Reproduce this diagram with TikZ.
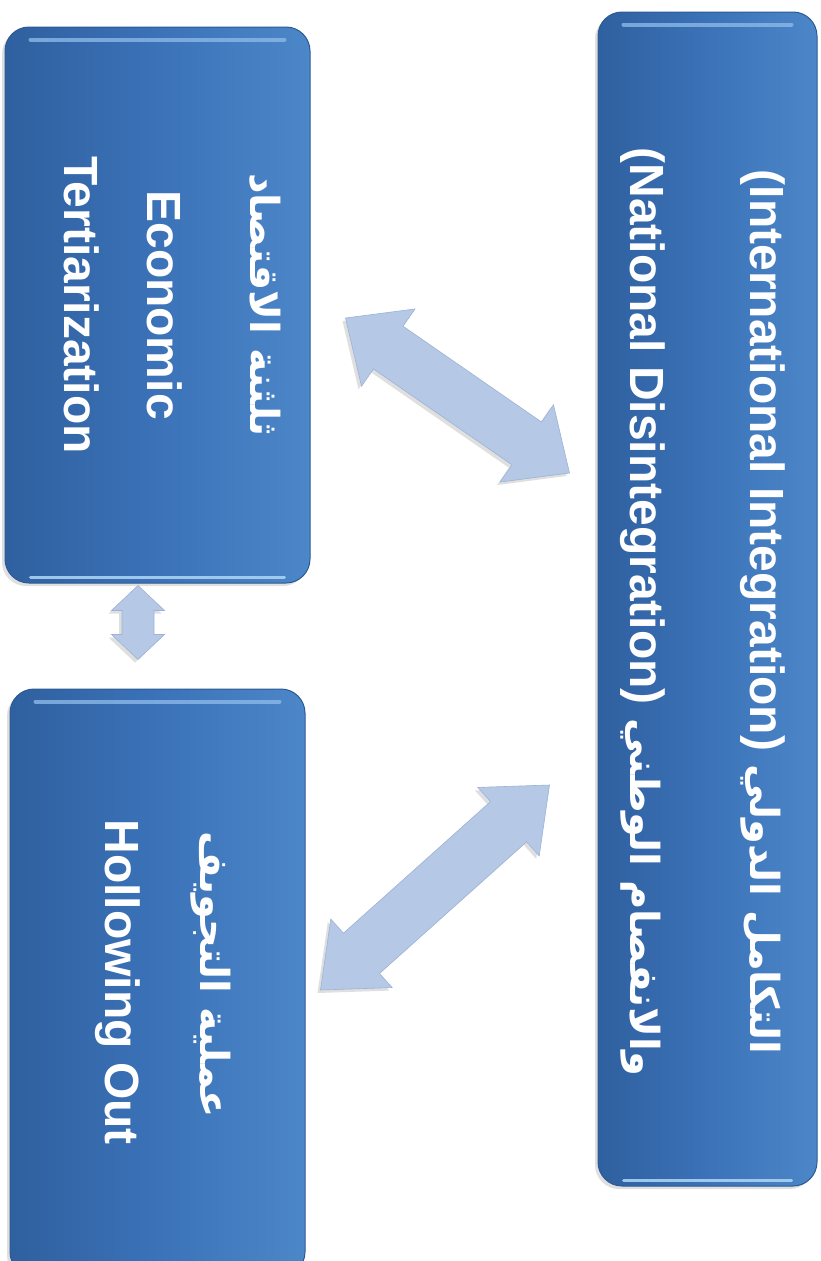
\documentclass[tikz,border=0pt]{standalone}
\usepackage{fontspec}
\setmainfont{Liberation Sans}
\newfontfamily\arabicfont[Script=Arabic]{DejaVu Sans}
\TeXXeTstate=1
\usetikzlibrary{calc,shadows}
\definecolor{boxL}{HTML}{2F609F}
\definecolor{boxM}{HTML}{3B72B8}
\definecolor{boxR}{HTML}{4C87C8}
\definecolor{boxedge}{HTML}{2C5A94}
\definecolor{hltop}{HTML}{8CB8E8}
\definecolor{hlbot}{HTML}{A9D2F2}
\definecolor{arrfill}{HTML}{B5C8E6}
\definecolor{arredge}{HTML}{9DB2D6}
\newcommand\artext[1]{{\arabicfont\bfseries\fontsize{40}{48}\selectfont\beginR #1\endR}}
\newcommand\blockarrow[5]{%
  \coordinate (ba1) at ($(#1)!#5!(#2)$);
  \coordinate (ba2) at ($(#2)!#5!(#1)$);
  \filldraw[arr] (#1) -- ($(ba1)!#4!90:(#2)$) -- ($(ba1)!#3!90:(#2)$)
    -- ($(ba2)!#3!-90:(#1)$) -- ($(ba2)!#4!-90:(#1)$) -- (#2)
    -- ($(ba2)!#4!90:(#1)$) -- ($(ba2)!#3!90:(#1)$)
    -- ($(ba1)!#3!-90:(#2)$) -- ($(ba1)!#4!-90:(#2)$) -- cycle;}
\tikzset{
  boxs/.style={rectangle, rounded corners=24pt, draw=boxedge, line width=1pt,
    left color=boxL, right color=boxR, middle color=boxM, inner sep=0pt,
    drop shadow={opacity=0.25, shadow xshift=-3pt, shadow yshift=-3pt}},
  txt/.style={rotate=-90, anchor=base, text=white, inner sep=0pt,
    font=\bfseries\fontsize{48}{58}\selectfont},
  arr/.style={fill=arrfill, draw=arredge, line width=0.6pt, line join=miter,
    drop shadow={opacity=0.25, shadow xshift=-3pt, shadow yshift=-3pt}},
  hlt/.style={line width=4pt, line cap=round, draw=hltop, opacity=0.8},
  hlb/.style={line width=3pt, line cap=round, draw=hlbot, opacity=0.9},
}
\begin{document}
\begin{tikzpicture}[x=1pt, y=-1pt]
\useasboundingbox (0,0) rectangle (820,1261);
\clip (0,0) rectangle (820,1261);
\fill[white] (0,0) rectangle (820,1261);
% boxes
\node[boxs, minimum width=305pt, minimum height=556pt] (A) at (157.5,305) {};
\node[boxs, minimum width=295pt, minimum height=587pt] (B) at (157.5,982.5) {};
\node[boxs, minimum width=219pt, minimum height=1174pt] (C) at (707.5,599) {};
% highlights
\foreach \b in {A,B,C}{
  \draw[hlt] ($(\b.north west)+(26,13)$) -- ($(\b.north east)+(-26,13)$);
  \draw[hlb] ($(\b.south west)+(26,-6)$) -- ($(\b.south east)+(-26,-6)$);
}
% texts
\node[txt] (a1) at (250,305) {\artext{ثلثنة الاقتصاد}};
\node[txt] (a2) at (147,305) {Economic};
\node[txt] (a3) at (64,305) {Tertiarization};
\node[txt] (b1) at (200,975) {\artext{عملية التجويف}};
\node[txt] (b2) at (105,982) {Hollowing Out};
\node[txt] (c1) at (750,612) {(International Integration) \artext{التكامل الدولي}};
\node[txt] (c2) at (630,612) {(National Disintegration) \artext{والانفصام الوطني}};
% arrows
\coordinate (p1) at ($(A.east)+(35,13)$);
\coordinate (p2) at ($(C.west)+(-28,-126)$);
\coordinate (q1) at ($(C.west)+(-48,186)$);
\coordinate (q2) at ($(B.east)+(15,7.5)$);
\coordinate (r1) at ($(A.south)+(-19.5,2)$);
\coordinate (r2) at ($(B.north)+(-19.5,-29)$);
\blockarrow{p1}{p2}{26pt}{47pt}{52pt}
\blockarrow{q1}{q2}{27pt}{46pt}{55pt}
\blockarrow{r1}{r2}{16pt}{26.5pt}{25pt}
\end{tikzpicture}
\end{document}
